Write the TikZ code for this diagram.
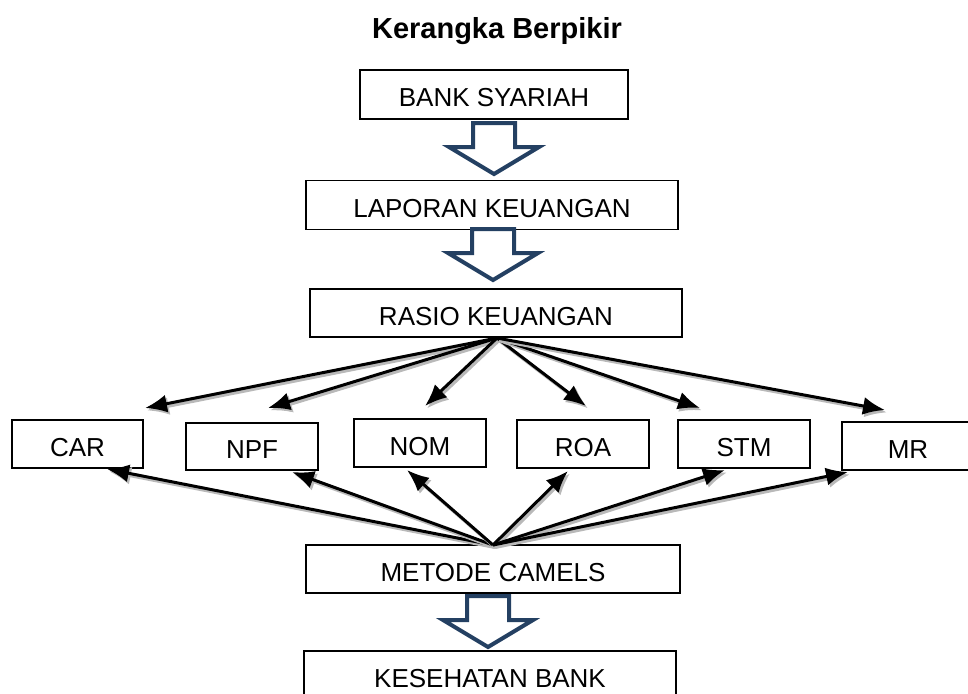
\documentclass[tikz,border=0pt]{standalone}
\usepackage{fontspec}
\setmainfont{Liberation Sans}
\usetikzlibrary{arrows.meta}

\definecolor{arrowblue}{RGB}{36,64,98}

\tikzset{
  box/.style={draw=black,line width=0.8pt,fill=white,inner sep=0pt,
    text height=12pt,text depth=0pt,font=\fontsize{13}{15}\selectfont},
  link/.style={-{Latex[length=11pt,width=9pt]},line width=1.5pt,
    preaction={draw=gray!55,line width=1.6pt,
      transform canvas={xshift=1pt,yshift=-1.2pt}}}
}

% hollow block arrow: centre x, top y
\newcommand{\blockarrow}[2]{%
  \draw[arrowblue,line width=2pt,fill=white,line join=miter]
    (#1-21,#2)--(#1+21,#2)--(#1+21,#2+24)--(#1+45,#2+24)
    --(#1,#2+51)--(#1-45,#2+24)--(#1-21,#2+24)--cycle;}

\begin{document}
\begin{tikzpicture}[x=0.5pt,y=-0.5pt]
  \useasboundingbox (0,0) rectangle (968,693);
  \node[font=\fontsize{14.5}{17}\selectfont\bfseries] (title) at (497,31) {Kerangka Berpikir};

  % main chain
  \node[box,minimum width=134pt,minimum height=24.5pt] (bank) at (494,94.5) {BANK SYARIAH};
  \node[box,minimum width=186pt,minimum height=24.5pt] (lapor) at (492,205) {LAPORAN KEUANGAN};
  \node[box,minimum width=186pt,minimum height=24pt] (rasio) at (496,313) {RASIO KEUANGAN};
  \node[box,minimum width=187pt,minimum height=24pt] (camels) at (493,569) {METODE CAMELS};
  \node[box,minimum width=186pt,minimum height=24pt] (sehat) at (490,675) {KESEHATAN BANK};

  \blockarrow{494}{123}
  \blockarrow{493}{229}
  \blockarrow{488}{596}

  % ratios
  \node[box,minimum width=65.5pt,minimum height=24pt] (car) at (77.5,444) {CAR};
  \node[box,minimum width=66pt,minimum height=23.5pt] (npf) at (252,446.5) {NPF};
  \node[box,minimum width=66pt,minimum height=24pt] (nom) at (420,443) {NOM};
  \node[box,minimum width=66pt,minimum height=24pt] (roa) at (583,444) {ROA};
  \node[box,minimum width=66pt,minimum height=24pt] (stm) at (744,444) {STM};
  \node[box,minimum width=66pt,minimum height=24pt] (mr) at (908,446) {MR};

  % free ends above the ratio boxes
  \coordinate (tcar) at (145,408);
  \coordinate (tnpf) at (268,408);
  \coordinate (tnom) at (425,406);
  \coordinate (troa) at (586,406);
  \coordinate (tstm) at (700,408);
  \coordinate (tmr) at (885,410);
  \coordinate (src) at (497,338);
  \coordinate (top) at (493,545);

  \foreach \t in {tcar,tnpf,tnom,troa,tstm,tmr}
    \draw[link] (src) -- (\t);

  % ends on the lower edge of the ratio boxes
  \coordinate (bcar) at (107,469);
  \coordinate (bnpf) at (292,472);
  \coordinate (bnom) at (407,470);
  \coordinate (broa) at (568,471);
  \coordinate (bstm) at (725,470);
  \coordinate (bmr) at (848,472);

  \foreach \b in {bcar,bnpf,bnom,broa,bstm,bmr}
    \draw[link] (top) -- (\b);
\end{tikzpicture}
\end{document}
